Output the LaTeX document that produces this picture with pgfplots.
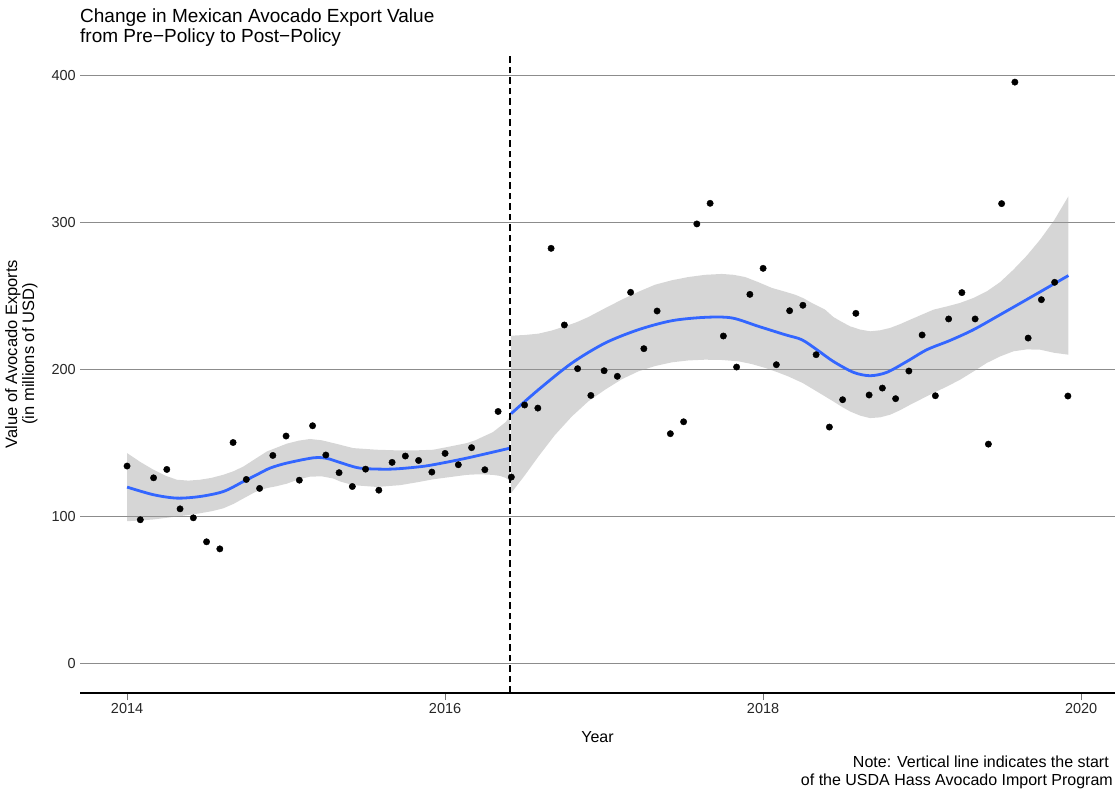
\documentclass[border=0pt]{standalone}
\usepackage{fontspec}
\setmainfont{Liberation Sans}
\usepackage{pgfplots}
\usepackage{pgfplotstable}
\pgfplotsset{compat=1.18}
\definecolor{smoothblue}{HTML}{3366FF}

\pgfplotstableread{
x y
2014.0000 134.5
2014.0833 98.0
2014.1667 126.5
2014.2500 132.2
2014.3333 105.4
2014.4167 99.3
2014.5000 83.0
2014.5833 78.2
2014.6667 150.5
2014.7500 125.4
2014.8333 119.3
2014.9167 141.7
2015.0000 154.9
2015.0833 124.9
2015.1667 161.9
2015.2500 142.0
2015.3333 130.0
2015.4167 120.6
2015.5000 132.4
2015.5833 118.1
2015.6667 137.0
2015.7500 141.3
2015.8333 138.3
2015.9167 130.4
2016.0000 143.1
2016.0833 135.4
2016.1667 147.0
2016.2500 132.0
2016.3333 171.6
2016.4167 127.0
2016.5000 176.0
2016.5833 173.9
2016.6667 282.5
2016.7500 230.4
2016.8333 200.7
2016.9167 182.5
2017.0000 199.3
2017.0833 195.5
2017.1667 252.6
2017.2500 214.3
2017.3333 239.9
2017.4167 156.5
2017.5000 164.6
2017.5833 299.1
2017.6667 313.1
2017.7500 222.9
2017.8333 201.8
2017.9167 251.2
2018.0000 268.9
2018.0833 203.4
2018.1667 240.1
2018.2500 243.8
2018.3333 210.2
2018.4167 161.0
2018.5000 179.6
2018.5833 238.3
2018.6667 182.8
2018.7500 187.5
2018.8333 180.3
2018.9167 199.1
2019.0000 223.6
2019.0833 182.3
2019.1667 234.5
2019.2500 252.4
2019.3333 234.5
2019.4167 149.4
2019.5000 312.9
2019.5833 395.5
2019.6667 221.5
2019.7500 247.6
2019.8333 259.4
2019.9167 182.1
}\exports

\begin{document}
\begin{tikzpicture}[x=1pt,y=1pt]
\path[use as bounding box] (0,0) rectangle (1118,792);
\begin{axis}[
  at={(80pt,99pt)}, anchor=south west,
  scale only axis, width=1035pt, height=640pt,
  xmin=2013.704, xmax=2020.213, ymin=-19.78, ymax=415.3,
  axis x line=bottom, axis y line=left, axis line style={-},
  y axis line style={draw=none},
  x axis line style={black, line width=1pt},
  xtick={2014,2016,2018,2020}, xticklabels={2014,2016,2018,2020},
  ytick={0,100,200,300,400},
  scaled ticks=false,
  tick align=outside,
  major tick length=7pt,
  x tick style={black!55, line width=1pt},
  y tick style={draw=none},
  ymajorgrids, major grid style={black!45, line width=0.9pt},
  tick label style={font=\fontsize{14.5}{17}\selectfont, text=black!85},
  /pgf/number format/assume math mode=true,
  x tick label style={inner sep=0pt, yshift=-3pt},
  y tick label style={inner sep=0pt, xshift=3pt},
]
% points
\addplot[only marks, mark=*, mark size=3.2pt, black] table[x=x, y=y] {\exports};

% pre-policy ribbon
\addplot[draw=none, fill=black!40, fill opacity=0.4] coordinates {
(2014.000,143.3) (2014.083,137.3) (2014.166,132.0) (2014.240,128.0) (2014.313,125.2)
(2014.386,124.6) (2014.459,125.2) (2014.532,126.5) (2014.606,128.6) (2014.670,131.0)
(2014.732,134.2) (2014.805,139.3) (2014.879,144.4) (2015.004,149.7) (2015.080,151.8)
(2015.151,152.9) (2015.225,152.0) (2015.298,150.1) (2015.423,146.7) (2015.570,145.6)
(2015.717,145.1) (2015.826,145.2) (2015.926,145.6) (2016.031,147.8) (2016.136,150.1)
(2016.190,152.0) (2016.241,154.6) (2016.300,157.5) (2016.346,161.4) (2016.380,164.3) (2016.409,168.2)
(2016.409,124.5) (2016.380,126.5) (2016.346,127.8) (2016.300,128.5) (2016.241,128.8)
(2016.190,128.8) (2016.136,128.5) (2016.031,127.0) (2015.926,125.5) (2015.826,123.5)
(2015.717,121.5) (2015.570,120.3) (2015.423,121.5) (2015.340,124.0) (2015.298,126.0)
(2015.225,127.5) (2015.151,127.3) (2015.080,125.5) (2015.004,122.5) (2014.940,120.8)
(2014.879,119.5) (2014.805,116.8) (2014.732,112.5) (2014.670,108.8) (2014.606,105.8)
(2014.532,103.8) (2014.459,102.4) (2014.386,101.2) (2014.313,100.2) (2014.240,99.2)
(2014.166,98.2) (2014.083,97.5) (2014.000,97.0)
} -- cycle;

% post-policy ribbon
\addplot[draw=none, fill=black!40, fill opacity=0.4] coordinates {
(2016.415,223.1) (2016.500,223.6) (2016.587,224.5) (2016.670,226.6) (2016.755,229.5)
(2016.830,232.4) (2016.901,235.8) (2017.006,241.8) (2017.111,247.6) (2017.216,253.0)
(2017.321,257.8) (2017.426,260.8) (2017.530,263.0) (2017.635,264.5) (2017.740,265.1)
(2017.815,264.5) (2017.887,263.0) (2017.970,259.5) (2018.055,255.6) (2018.130,253.3)
(2018.201,251.0) (2018.255,248.5) (2018.306,245.4) (2018.390,240.8) (2018.442,235.8)
(2018.495,232.5) (2018.547,229.5) (2018.610,227.3) (2018.673,226.1) (2018.736,226.8)
(2018.799,228.4) (2018.862,231.0) (2018.925,234.0) (2019.000,237.5) (2019.071,240.8)
(2019.155,243.0) (2019.239,245.4) (2019.323,248.8) (2019.407,253.3) (2019.490,259.5)
(2019.574,268.0) (2019.658,277.5) (2019.742,288.4) (2019.830,301.5) (2019.920,317.9)
(2019.920,210.2) (2019.830,211.5) (2019.742,213.6) (2019.658,213.8) (2019.574,212.5)
(2019.490,209.0) (2019.407,204.6) (2019.323,198.8) (2019.239,193.2) (2019.155,188.5)
(2019.071,184.2) (2019.000,180.3) (2018.925,176.2) (2018.862,172.5) (2018.799,169.4)
(2018.736,167.6) (2018.673,167.1) (2018.610,168.8) (2018.547,171.6) (2018.495,174.8)
(2018.442,178.4) (2018.390,181.8) (2018.338,185.2) (2018.250,190.9) (2018.159,195.4)
(2018.085,198.5) (2018.013,201.2) (2017.930,203.8) (2017.845,205.7) (2017.740,206.6)
(2017.635,206.8) (2017.530,206.3) (2017.426,205.0) (2017.321,202.5) (2017.216,198.9)
(2017.111,193.5) (2017.006,186.4) (2016.901,178.5) (2016.797,168.2) (2016.690,155.5)
(2016.587,141.0) (2016.500,128.0) (2016.415,116.1)
} -- cycle;

% smooth lines
\addplot[smoothblue, line width=2.8pt, smooth] coordinates {
(2014.000,120.2) (2014.166,115.0) (2014.313,112.7) (2014.459,113.8) (2014.606,117.2)
(2014.732,124.0) (2014.816,128.6) (2014.899,133.1) (2015.004,136.5) (2015.172,140.1)
(2015.256,139.7) (2015.340,136.9) (2015.465,133.1) (2015.654,132.4) (2015.822,133.8)
(2015.926,135.4) (2016.136,139.9) (2016.409,146.7)
};
\addplot[smoothblue, line width=2.8pt, smooth] coordinates {
(2016.415,170.1) (2016.587,186.4) (2016.797,204.5) (2017.006,218.1) (2017.216,227.2)
(2017.426,233.3) (2017.635,235.6) (2017.803,235.2) (2017.970,229.5) (2018.138,223.8)
(2018.243,220.4) (2018.338,213.6) (2018.442,205.6) (2018.568,198.2) (2018.673,195.9)
(2018.778,198.2) (2018.904,205.6) (2019.030,213.6) (2019.176,219.9) (2019.323,227.2)
(2019.491,237.4) (2019.700,250.3) (2019.920,264.0)
};

% policy start
\addplot[black, line width=1.7pt, dash pattern=on 6.5pt off 4pt] coordinates {(2016.41,-19.78) (2016.41,415.3)};
\end{axis}

% titles and notes
\node[anchor=base west, inner sep=0pt, font=\fontsize{19}{22}\selectfont] at (80,769.3) {Change in Mexican Avocado Export Value};
\node[anchor=base west, inner sep=0pt, font=\fontsize{19}{22}\selectfont] at (80,749.7) {from Pre−Policy to Post−Policy};
\node[anchor=base, rotate=90, inner sep=0pt, font=\fontsize{16.5}{19}\selectfont] at (17,438) {Value of Avocado Exports};
\node[anchor=base, rotate=90, inner sep=0pt, font=\fontsize{16.5}{19}\selectfont] at (34,438) {(in millions of USD)};
\node[anchor=base, inner sep=0pt, font=\fontsize{16}{19}\selectfont] at (597.5,50) {Year};
\node[anchor=base east, inner sep=0pt, font=\fontsize{16}{19}\selectfont] at (1109,25) {Note: Vertical line indicates the start};
\node[anchor=base east, inner sep=0pt, font=\fontsize{16}{19}\selectfont] at (1113,6.5) {of the USDA Hass Avocado Import Program};
\end{tikzpicture}
\end{document}
